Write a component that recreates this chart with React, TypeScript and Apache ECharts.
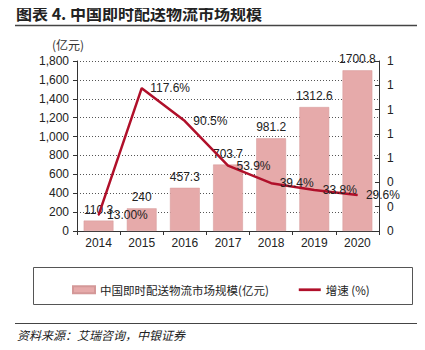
import React, { useEffect, useRef } from "react";
import * as echarts from "echarts";

const years = ["2014", "2015", "2016", "2017", "2018", "2019", "2020"];
const marketSize = [110.3, 240, 457.3, 703.7, 981.2, 1312.6, 1700.8];
const growth = [0.13, 1.176, 0.905, 0.539, 0.394, 0.338, 0.296];
const growthLabels = ["13.00%", "117.6%", "90.5%", "53.9%", "39.4%", "33.8%", "29.6%"];
const seriesNames = ["中国即时配送物流市场规模(亿元)", "增速 (%)"];

const FONT = "Liberation Sans, Arial, sans-serif";
const CJK = "Noto Sans CJK SC, sans-serif";

export default function App() {
  const ref = useRef<HTMLDivElement>(null);
  useEffect(() => {
    if (!ref.current) return;
    const chart = echarts.init(ref.current, null, { renderer: "svg" });
    chart.setOption({
      animation: false,
      backgroundColor: "#fff",
      textStyle: { fontFamily: FONT },
      grid: { left: 77, right: 46, top: 61, bottom: 119, containLabel: false },
      legend: {
        left: 67,
        top: 279,
        itemWidth: 22,
        itemHeight: 7,
        itemGap: 30,
        textStyle: { fontFamily: CJK, fontSize: 11.5, color: "#222" },
        data: [
          { name: seriesNames[0], icon: "rect" },
          { name: seriesNames[1], icon: "path://M0,0 L24,0 L24,3 L0,3 Z", itemStyle: { color: "#B0102A" } },
        ],
      },
      xAxis: {
        type: "category",
        data: years,
        axisLine: { lineStyle: { color: "#333", width: 1 } },
        axisTick: { show: true, alignWithLabel: false, lineStyle: { color: "#333" }, length: 4 },
        axisLabel: { color: "#222", fontSize: 12, fontFamily: FONT, margin: 6 },
      },
      yAxis: [
        {
          type: "value",
          min: 0,
          max: 1800,
          interval: 200,
          axisLine: { show: true, lineStyle: { color: "#333" } },
          axisTick: { show: true, length: 4, lineStyle: { color: "#333" } },
          axisLabel: {
            color: "#222",
            fontSize: 12,
            fontFamily: FONT,
            margin: 8,
            formatter: (v: number) => v.toLocaleString("en-US"),
          },
          splitLine: { show: true, lineStyle: { color: "#555", type: [1, 2], width: 1 } },
        },
        {
          type: "value",
          min: 0,
          max: 1.4,
          interval: 0.2,
          position: "right",
          axisLine: { show: true, lineStyle: { color: "#333" } },
          axisTick: { show: true, inside: true, length: 4, lineStyle: { color: "#333" } },
          axisLabel: {
            color: "#222",
            fontSize: 12,
            fontFamily: FONT,
            margin: 8,
            formatter: (v: number) => String(Math.round(v)),
          },
          splitLine: { show: false },
        },
      ],
      series: [
        {
          name: seriesNames[0],
          type: "bar",
          data: marketSize,
          barWidth: "69%",
          itemStyle: { color: "#E6AAAA", borderColor: "#D49898", borderWidth: 0.5 },
          label: {
            show: true,
            position: "top",
            distance: 5,
            color: "#222",
            fontSize: 12,
            fontFamily: FONT,
          },
          z: 2,
        },
        {
          name: seriesNames[1],
          type: "line",
          yAxisIndex: 1,
          data: growth,
          symbol: "circle",
          symbolSize: 1,
          showSymbol: true,
          lineStyle: { color: "#B0102A", width: 2.5 },
          itemStyle: { color: "#B0102A" },
          label: {
            show: true,
            position: "right",
            distance: 8,
            color: "#222",
            fontSize: 12,
            fontFamily: FONT,
            formatter: (p: any) => growthLabels[p.dataIndex],
          },
          z: 5,
        },
      ],
      graphic: [
        {
          type: "text",
          left: 16,
          top: 5,
          style: {
            text: "图表 4. 中国即时配送物流市场规模",
            fontSize: 16,
            fontWeight: "bold",
            fontFamily: CJK,
            fill: "#222",
          },
        },
        {
          type: "line",
          shape: { x1: 15, y1: 25.5, x2: 423, y2: 25.5 },
          style: { stroke: "#444", lineWidth: 1.5 },
        },
        {
          type: "text",
          left: 52,
          top: 38,
          style: { text: "(亿元)", fontSize: 12, fontFamily: CJK, fill: "#333" },
        },
        {
          type: "rect",
          shape: { x: 33.5, y: 267.5, width: 379, height: 37 },
          style: { fill: "none", stroke: "#555", lineWidth: 1 },
        },
        {
          type: "line",
          shape: { x1: 15, y1: 323.5, x2: 423, y2: 323.5 },
          style: { stroke: "#444", lineWidth: 1 },
        },
        {
          type: "text",
          left: 17,
          top: 328,
          style: {
            text: "资料来源：艾瑞咨询，中银证券",
            fontSize: 12,
            fontStyle: "italic",
            fontFamily: CJK,
            fill: "#222",
          },
        },
      ],
    });
    return () => chart.dispose();
  }, []);
  return <div ref={ref} style={{ width: 425, height: 350, margin: -8 }} />;
}
